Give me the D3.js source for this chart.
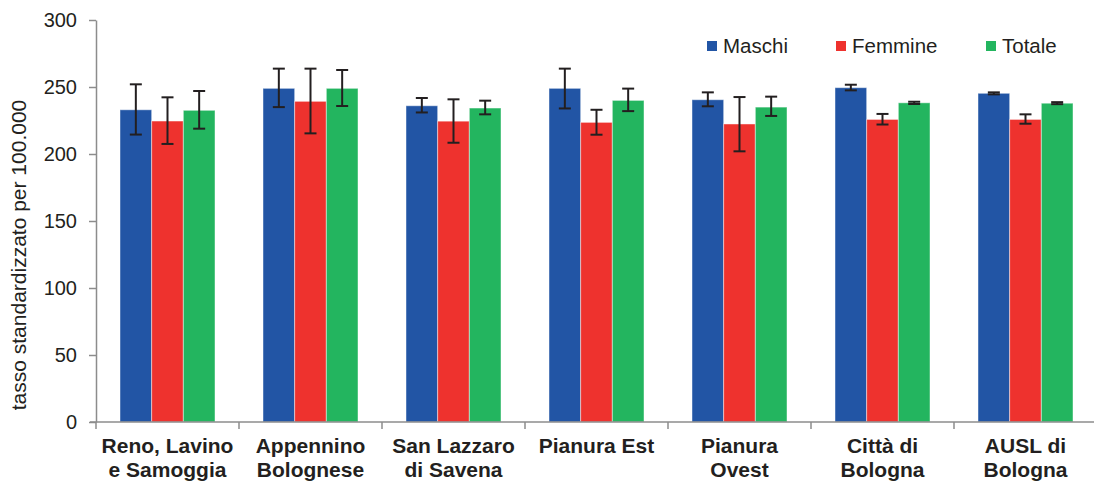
<!DOCTYPE html>
<html><head><meta charset="utf-8">
<script src="https://cdn.jsdelivr.net/npm/d3@7"></script>
<style>body{margin:0;background:#fff}svg{display:block;font-family:"Liberation Sans",Arial,sans-serif}</style>
</head><body><svg id="c" width="1094" height="484"></svg>
<script>
const categories = [["Reno, Lavino","e Samoggia"],["Appennino","Bolognese"],["San Lazzaro","di Savena"],["Pianura Est"],["Pianura","Ovest"],["Città di","Bologna"],["AUSL di","Bologna"]];
const seriesNames = ["Maschi","Femmine","Totale"];
const seriesColors = ["#2255a5","#ee322e","#23b55f"];
const maschi   = [233, 249, 236, 249, 240.5, 249.5, 245.3];
const maschiLo = [214.5, 235, 231, 234, 235.6, 247.5, 244.5];
const maschiHi = [252, 263.7, 241.8, 263.7, 246, 251.7, 246];
const femmine   = [224.6, 239.3, 224.5, 223.6, 222.4, 225.8, 225.8];
const femmineLo = [207.5, 215.4, 208.4, 214.4, 202, 222, 222.6];
const femmineHi = [242.3, 263.7, 240.8, 233, 242.5, 229.9, 229.6];
const totale   = [232.6, 249, 234.3, 240, 235, 238.2, 237.9];
const totaleLo = [218.9, 235.8, 229.6, 232, 228.4, 237.3, 237.2];
const totaleHi = [247, 262.7, 239.8, 248.8, 242.8, 239, 238.7];
const yTicks = [0,50,100,150,200,250,300];
const yTitle = "tasso standardizzato per 100.000";

const series = [
  {name:seriesNames[0], v:maschi, lo:maschiLo, hi:maschiHi},
  {name:seriesNames[1], v:femmine, lo:femmineLo, hi:femmineHi},
  {name:seriesNames[2], v:totale, lo:totaleLo, hi:totaleHi}
];
const svg = d3.select("#c");
const x0 = d3.scaleBand().domain(d3.range(categories.length)).range([96,1097]).paddingInner(0).paddingOuter(0);
const innerPad = 24;
const x1 = d3.scaleBand().domain(d3.range(3)).range([innerPad, x0.bandwidth()-innerPad]);
const y = d3.scaleLinear().domain([0,300]).range([422,20]);
const axisColor = "#8c8c8c";

// bars
series.forEach((s,si)=>{
  const g = svg.append("g");
  g.selectAll("rect").data(s.v).join("rect")
    .attr("x",(d,i)=>x0(i)+x1(si))
    .attr("y",d=>y(d))
    .attr("width",x1.bandwidth())
    .attr("height",d=>y(0)-y(d))
    .attr("fill",seriesColors[si])
    .attr("stroke","#ffffff").attr("stroke-opacity",0.45).attr("stroke-width",1);
});
// error bars
series.forEach((s,si)=>{
  const g = svg.append("g").attr("stroke","#231f20").attr("stroke-width",2).attr("fill","none");
  s.v.forEach((d,i)=>{
    const cx = x0(i)+x1(si)+x1.bandwidth()/2;
    const hw = 6;
    g.append("line").attr("x1",cx).attr("x2",cx).attr("y1",y(s.hi[i])).attr("y2",y(s.lo[i]));
    g.append("line").attr("x1",cx-hw).attr("x2",cx+hw).attr("y1",y(s.hi[i])).attr("y2",y(s.hi[i]));
    g.append("line").attr("x1",cx-hw).attr("x2",cx+hw).attr("y1",y(s.lo[i])).attr("y2",y(s.lo[i]));
  });
});

// y axis
const ya = svg.append("g").attr("transform","translate(96,0)")
  .call(d3.axisLeft(y).tickValues(yTicks).tickSize(7).tickPadding(12).tickSizeOuter(0));
ya.select(".domain").attr("stroke",axisColor).attr("stroke-width",1.5);
ya.selectAll(".tick line").attr("stroke",axisColor).attr("stroke-width",1.5);
ya.selectAll(".tick text").attr("fill","#231f20").attr("font-size",20).attr("font-family","Liberation Sans, Arial, sans-serif");

// x axis
const xa = svg.append("g").attr("transform","translate(0,422)");
xa.append("line").attr("x1",90).attr("x2",1094).attr("y1",0).attr("y2",0).attr("stroke",axisColor).attr("stroke-width",1.5);
xa.selectAll("line.t").data(d3.range(categories.length+1)).join("line").attr("class","t")
  .attr("x1",i=>x0.range()[0]+i*x0.step()).attr("x2",i=>x0.range()[0]+i*x0.step())
  .attr("y1",0).attr("y2",7).attr("stroke",axisColor).attr("stroke-width",1.5);
categories.forEach((lines,i)=>{
  const t = xa.append("text").attr("text-anchor","middle").attr("font-weight","bold").attr("font-size",21).attr("fill","#231f20")
    .attr("x",x0(i)+x0.bandwidth()/2);
  lines.forEach((ln,k)=>t.append("tspan").attr("x",x0(i)+x0.bandwidth()/2).attr("y",31+k*24).text(ln));
});

// y title
svg.append("text").attr("transform","translate(26,255) rotate(-90)").attr("text-anchor","middle")
  .attr("font-size",21).attr("fill","#231f20").text(yTitle);

// legend
const legX = [707,836,986];
series.forEach((s,si)=>{
  svg.append("rect").attr("x",legX[si]).attr("y",41).attr("width",10).attr("height",10).attr("fill",seriesColors[si]);
  svg.append("text").attr("x",legX[si]+16).attr("y",53).attr("font-size",20.5).attr("fill","#231f20").text(s.name);
});
</script></body></html>
